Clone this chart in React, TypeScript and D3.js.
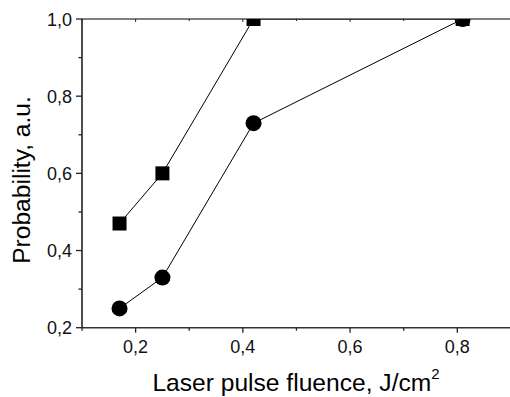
import React from "react";
import * as d3 from "d3";

const fluenceSquares = [0.17, 0.25, 0.42, 0.81];
const probSquares = [0.47, 0.6, 1.0, 1.0];
const fluenceCircles = [0.17, 0.25, 0.42, 0.81];
const probCircles = [0.25, 0.33, 0.73, 1.0];
const xMajorTicks = [0.2, 0.4, 0.6, 0.8];
const xMinorTicks = [0.1, 0.3, 0.5, 0.7, 0.9];
const yMajorTicks = [0.2, 0.4, 0.6, 0.8, 1.0];
const yMinorTicks = [0.3, 0.5, 0.7, 0.9];

const W = 510;
const H = 397;
const left = 82;
const top = 19;
const bottom = 327.7;
const right = 510.9;

export default function App() {
  const x = d3.scaleLinear().domain([0.1, 0.9]).range([left, right]);
  const y = d3.scaleLinear().domain([0.2, 1.0]).range([bottom, top]);
  const fmt = (v: number) => v.toFixed(1).replace(".", ",");
  const line = d3
    .line<[number, number]>()
    .x((d) => x(d[0]))
    .y((d) => y(d[1]));
  const sq = fluenceSquares.map((f, i) => [f, probSquares[i]] as [number, number]);
  const ci = fluenceCircles.map((f, i) => [f, probCircles[i]] as [number, number]);
  const font = "'Liberation Sans', Arial, sans-serif";

  return (
    <svg
      width={W}
      height={H}
      style={{ position: "absolute", left: 0, top: 0, background: "#fff" }}
      fontFamily={font}
    >
      <defs>
        <clipPath id="plot">
          <rect x={left} y={top} width={right - left} height={bottom - top} />
        </clipPath>
      </defs>
      <g clipPath="url(#plot)">
        <path d={line(sq) || ""} fill="none" stroke="#000" strokeWidth={1} />
        <path d={line(ci) || ""} fill="none" stroke="#000" strokeWidth={1} />
        {sq.map((d, i) => (
          <rect key={"s" + i} x={x(d[0]) - 7} y={y(d[1]) - 7} width={14} height={14} fill="#000" />
        ))}
        {ci.map((d, i) => (
          <circle key={"c" + i} cx={x(d[0])} cy={y(d[1])} r={8} fill="#000" />
        ))}
      </g>
      {/* axes */}
      <line x1={left} x2={right} y1={top} y2={top} stroke="#000" strokeWidth={1.2} />
      <line x1={left} x2={right} y1={bottom} y2={bottom} stroke="#333" strokeWidth={1.6} />
      <line x1={left} x2={left} y1={top} y2={bottom} stroke="#222" strokeWidth={1.6} />
      {/* x ticks */}
      {xMajorTicks.map((t) => (
        <g key={"xm" + t}>
          <line x1={x(t)} x2={x(t)} y1={bottom} y2={bottom + 5} stroke="#222" strokeWidth={1.3} />
          <line x1={x(t)} x2={x(t)} y1={top} y2={top + 3} stroke="#222" strokeWidth={1} />
          <text x={x(t)} y={353} textAnchor="middle" fontSize={18} fill="#111">
            {fmt(t)}
          </text>
        </g>
      ))}
      {xMinorTicks.map((t) => (
        <g key={"xn" + t}>
          <line x1={x(t)} x2={x(t)} y1={bottom} y2={bottom + 3} stroke="#222" strokeWidth={1.3} />
          <line x1={x(t)} x2={x(t)} y1={top} y2={top + 2} stroke="#222" strokeWidth={1} />
        </g>
      ))}
      {/* y ticks */}
      {yMajorTicks.map((t) => (
        <g key={"ym" + t}>
          <line x1={left - 6} x2={left} y1={y(t)} y2={y(t)} stroke="#222" strokeWidth={1.3} />
          <text x={72} y={y(t) + 6.5} textAnchor="end" fontSize={18} fill="#111">
            {fmt(t)}
          </text>
        </g>
      ))}
      {yMinorTicks.map((t) => (
        <line key={"yn" + t} x1={left - 3.5} x2={left} y1={y(t)} y2={y(t)} stroke="#222" strokeWidth={1.3} />
      ))}
      {/* titles */}
      <text x={296} y={391} textAnchor="middle" fontSize={24.6} fill="#000">
        Laser pulse fluence, J/cm
        <tspan dy={-12} fontSize={15}>2</tspan>
      </text>
      <text
        transform={`translate(29.5,${180}) rotate(-90)`}
        textAnchor="middle"
        fontSize={24.6}
        fill="#000"
      >
        Probability, a.u.
      </text>
    </svg>
  );
}
